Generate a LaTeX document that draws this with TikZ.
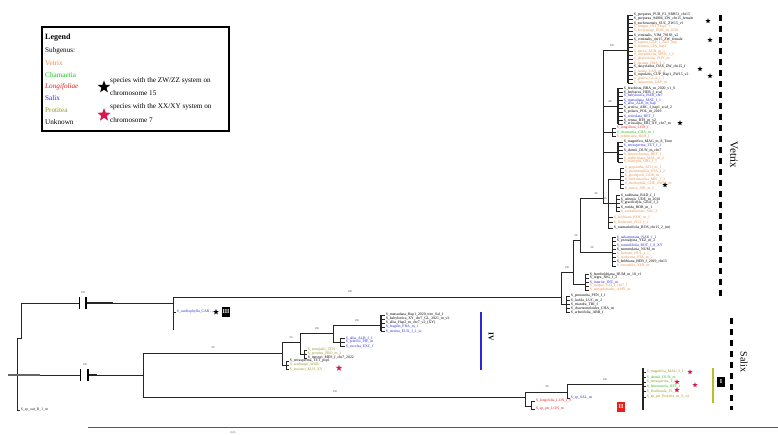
\documentclass[tikz,border=0pt]{standalone}
\usepackage{fontspec}
\setmainfont{Liberation Serif}
\usetikzlibrary{shapes.geometric}
\definecolor{vorg}{RGB}{232,140,70}
\definecolor{vgrn}{RGB}{30,190,30}
\definecolor{vred}{RGB}{235,30,30}
\definecolor{vblu}{RGB}{40,40,220}
\definecolor{volv}{RGB}{150,150,30}
\definecolor{vpnk}{RGB}{215,25,80}
\definecolor{vbar}{RGB}{185,190,40}
\tikzset{
  br/.style={line width=0.75pt, black!85},
  lab/.style={anchor=west, inner sep=0.4pt, font=\fontsize{3.8}{4}\selectfont},
  sv/.style={font=\fontsize{2.8}{3}\selectfont, inner sep=0pt, text=black!75},
  mstar/.style={star, star points=5, star point ratio=2.4, fill=black, inner sep=0pt, minimum size=5.5pt},
  pstar/.style={mstar, fill=vpnk},
  lg/.style={anchor=west, inner sep=0pt, font=\fontsize{7.2}{8}\selectfont},
  cbox/.style={fill=black, text=white, font=\bfseries\fontsize{6}{6}\selectfont, inner sep=0.8pt, minimum width=8pt, minimum height=10pt},
  dash3/.style={line width=3pt, dash pattern=on 6pt off 5pt}
}
\begin{document}
\begin{tikzpicture}[x=1pt,y=-1pt]
\useasboundingbox (0,0) rectangle (778,435);

% ---------- legend ----------
\draw[line width=1.5pt] (42,27) rectangle (229,131);
\node[anchor=west, inner sep=0pt, font=\bfseries\fontsize{8}{9}\selectfont] (lgt) at (45,38) {Legend};
\node[lg] (lg0) at (45,51) {Subgenus:};
\node[lg, text=vorg] (lg1) at (45,63) {Vetrix};
\node[lg, text=vgrn] (lg2) at (45,75) {Chamaetia};
\node[lg, text=vred, font=\itshape\fontsize{7.2}{8}\selectfont] (lg3) at (45,87) {Longifoliae};
\node[lg, text=vblu] (lg4) at (45,98) {Salix};
\node[lg, text=volv] (lg5) at (45,110) {Protitea};
\node[lg] (lg6) at (45,122) {Unknown};
\node[mstar, minimum size=13pt] (lgs1) at (104,87) {};
\node[lg] (lgt1) at (110,81) {species with the ZW/ZZ system on};
\node[lg] (lgt2) at (110,93) {chromosome 15};
\node[pstar, minimum size=14pt] (lgs2) at (104,115) {};
\node[lg] (lgt3) at (110,107) {species with the XX/XY system on};
\node[lg] (lgt4) at (110,120) {chromosome 7};

% ---------- root and outgroup branches ----------
\draw[br] (17,338) -- (17,410);
\draw[br] (17,338) -- (21,338) -- (21,303) -- (79,303);
\draw[br, line width=1.3pt] (86,303) -- (113,303);
\draw[br] (113,303) -- (173,303);
\draw[line width=1.8pt] (79.5,297) -- (79.5,309) (86,297) -- (86,309);
\draw[br, line width=1.2pt, black!60] (8,375) -- (40,375);
\draw[br] (40,375) -- (80,375);
\draw[br, line width=1.3pt] (88,375) -- (97,375);
\draw[br] (97,375) -- (143,375);
\draw[line width=1.8pt] (80.5,369) -- (80.5,381) (88,369) -- (88,381);
\draw[br] (17,410) -- (20,410) node[lab] (out1) {S\_sp\_out\_R\_1\_m};
\node[sv] (sv1) at (83,293) {100};
\node[sv] (sv2) at (85,365) {100};

% upper single leaf
\draw[br] (173,297) -- (173,330);
\draw[br] (173,312) -- (176,312) node[lab, text=vblu] (up1) {S\_cardiophylla\_CAR\,-\,-\,-};
\node[mstar, minimum size=6pt] (ups) at (216,312) {};
\node[cbox] (box3) at (226,312) {III};

% ---------- long branch to Vetrix ----------
\draw[br] (173,297) -- (561,297);
\node[sv] (sv3) at (350,292) {100};

% ---------- middle clade ----------
\draw[br] (143,353) -- (143,397);
\draw[br] (143,353) -- (282,353);
\node[sv] (sv4) at (213,348) {98};
\draw[br] (282,342) -- (282,365);
\draw[br] (282,342) -- (300,342);
\node[sv] (sv5) at (291,338) {90};
\draw[br] (300,333) -- (300,354);
\draw[br] (300,333) -- (333,333);
\node[sv] (sv6) at (317,329) {100};
\draw[br] (333,325) -- (333,342);
\draw[br] (333,325) -- (381,325);
\node[sv] (sv7) at (357,321) {100};
\draw[br, line width=1.1pt] (381,315) -- (381,331);
\foreach \y/\c/\t [count=\k] in {315/black/{S\_matsudana\_Hap1\_2020\_tree\_Sal\_f},319/black/{S\_babylonica\_XY\_chr7\_GL\_2021\_m\_v2},323/black/{S\_alba\_Hap2\_m\_chr7\_v2\_(XY)},327/vblu/{S\_fragilis\_FRA\_m\_1},331/vblu/{S\_euxina\_EUX\_f\_2\_sc}}
  {\draw[br] (381,\y) -- (385,\y) node[lab, text=\c] (m\k) {\t};}
\draw[br] (333,342) -- (340,342);
\draw[br] (340,338) -- (340,346);
\foreach \y/\c/\t [count=\k] in {338/vblu/{S\_alba\_ALB\_f\_1},342/vblu/{S\_pierotii\_PIE\_m},346/vblu/{S\_excelsa\_EXC\_f}}
  {\draw[br] (340,\y) -- (345,\y) node[lab, text=\c] (mb\k) {\t};}
\draw[br] (300,354) -- (304,354);
\draw[br] (304,350) -- (304,358);
\foreach \y/\c/\t [count=\k] in {350/volv/{S\_tenuijulis\_TEN},354/volv/{S\_protitea\_PRO\_m\_3},358/black/{S\_mesnyi\_MES\_f\_chr7\_2022}}
  {\draw[br] (304,\y) -- (307,\y) node[lab, text=\c] (mc\k) {\t};}
\draw[br] (282,365) -- (286,365);
\draw[br] (286,361) -- (286,369);
\foreach \y/\c/\t [count=\k] in {361/black/{S\_tetrasperma\_TET\_pop1},365/volv/{S\_warburgii\_WAR},369/volv/{S\_kusanoi\_KUS\_XY}}
  {\draw[br] (286,\y) -- (289,\y) node[lab, text=\c] (md\k) {\t};}
\node[pstar, minimum size=6.5pt] (mst) at (339,368) {};
\draw[vblu, line width=1.5pt] (481,312) -- (481,370);
\node[rotate=-90, font=\bfseries\fontsize{7.5}{8}\selectfont, inner sep=0pt] (lbl4) at (491,337) {IV};

% ---------- bottom clade ----------
\draw[br] (143,397) -- (525,397);
\node[sv] (sv8) at (335,392) {100};
\draw[br] (525,392) -- (525,406);
\draw[br] (525,392) -- (567,392);
\node[sv] (sv9) at (547,387) {98};
\draw[br] (567,384) -- (567,398);
\draw[br] (567,384) -- (643,384);
\node[sv] (sv10) at (605,380) {100};
\draw[br, line width=1.3pt] (643,368) -- (643,410);
\foreach \y/\c/\t [count=\k] in {372/volv/{S\_magnifica\_MAG\_f\_1},377/vgrn/{S\_dunnii\_DUN\_m},382/volv/{S\_tetrasperma\_T\_2},386/vgrn/{S\_heteromera\_HET\_f},391/volv/{S\_floribunda\_FL\_m},397/volv/{S\_sp\_ptr\_Protitea\_m\_\,S\_xx}}
  {\draw[br] (643,\y) -- (646,\y) node[lab, text=\c] (b\k) {\t};}
\node[pstar] (bs1) at (690,372) {};
\node[pstar] (bs2) at (677,382) {};
\node[pstar] (bs3) at (695,385) {};
\node[pstar] (bs4) at (677,390) {};
\draw[br] (567,398) -- (570,398) node[lab, text=vblu] (bb1) {S\_sp\_SAL\_m};
\draw[br] (525,406) -- (531,406);
\draw[br] (531,401) -- (531,409);
\draw[br] (531,401) -- (535,401) node[lab, text=vred] (bc1) {S\_longifolia\_LON\_f\_S};
\draw[br] (531,409) -- (535,409) node[lab, text=vred] (bc2) {S\_sp\_ptr\_LON\_m};
\node[cbox, fill=vred] (box2) at (621,407) {II};
\draw[vbar, line width=2.8pt] (713,368) -- (713,403);
\node[cbox] (box1) at (721,382) {I};
\draw[dash3] (731,318) -- (731,410);
\node[rotate=-90, font=\fontsize{10}{10}\selectfont, inner sep=0pt] (salix) at (744,362) {Salix};

% ---------- Vetrix clade ----------
\draw[dash3] (720,15) -- (720,300);
\node[rotate=-90, font=\fontsize{11}{11}\selectfont, inner sep=0pt] (vetrix) at (734,155) {Vetrix};

% backbone
\draw[br] (561,272) -- (561,304);
\draw[br] (561,272) -- (573,272);
\draw[br] (561,304) -- (566,304);
\draw[br] (566,296) -- (566,312);
\draw[br] (573,240) -- (573,284);
\draw[br] (573,240) -- (580,240);
\draw[br] (573,284) -- (585,284);
\draw[br] (585,274) -- (585,290);
\draw[br] (580,198) -- (580,252);
\draw[br] (580,198) -- (603,198);
\draw[br] (580,252) -- (612,252);
\draw[br] (612,237) -- (612,266);
\draw[br] (603,50) -- (603,203);
\draw[br] (603,50) -- (628,50);
\draw[br] (603,106) -- (618,106);
\draw[br] (603,132) -- (612,132);
\draw[br] (603,152) -- (618,152);
\draw[br] (603,203) -- (608,203);
\draw[br] (608,179) -- (608,228);
\draw[br] (608,179) -- (620,179);
\draw[br] (608,203) -- (616,203);
\draw[br] (620,168) -- (620,188);
\draw[br] (616,195) -- (616,211);
\draw[br, line width=1.3pt] (628,15) -- (628,83);
\draw[br, line width=1.1pt] (618,88) -- (618,124);
\draw[br] (612,128) -- (612,136);
\draw[br, line width=1.1pt] (618,142) -- (618,162);
\node[sv] (sv11) at (612,46) {100};
\node[sv] (sv12) at (596,194) {98};
\node[sv] (sv13) at (576,236) {98};
\node[sv] (sv14) at (592,248) {98};
\node[sv] (sv15) at (567,268) {100};
\node[sv] (sv16) at (610,102) {88};
\node[sv] (sv17) at (605,199) {96};

% group A
\foreach \y/\c/\t [count=\k] in {
 15/black/{S\_purpurea\_PUR\_F2\_SRR51\_chr15},
 19/black/{S\_purpurea\_94006\_ZW\_chr15\_female},
 23/black/{S\_suchowensis\_SUC\_ZW15\_v1},
 27/vorg/{S\_integra\_INT\_Hap1\_f},
 31/vorg/{S\_koriyanagi\_KOR\_m\_2020},
 35/black/{S\_viminalis\_VIM\_78183\_v2},
 39/black/{S\_viminalis\_chr15\_ZW\_female},
 43/vorg/{S\_caprea\_CAP\_f\_2021\_hap},
 47/vorg/{S\_cinerea\_CIN\_hap2},
 51/vorg/{S\_aurita\_AUR\_m\_1},
 55/vorg/{S\_myrsinifolia\_MYR\_f\_2},
 59/vorg/{S\_phylicifolia\_PHY\_m},
 63/vorg/{S\_hastata\_HAS\_f\_3},
 67/black/{S\_dasyclados\_DAS\_ZW\_chr15\_f},
 71/vorg/{S\_lanata\_LAN\_m\_2},
 75/black/{S\_cupularis\_CUP\_Hap1\_ZW15\_v2},
 79/vorg/{S\_glauca\_GLA\_f\_1},
 83/vorg/{S\_lapponum\_LAP\_m}}
  {\draw[br] (628,\y) -- (633,\y) node[lab, text=\c] (a\k) {\t};}
% group B
\foreach \y/\c/\t [count=\k] in {
 88/black/{S\_brachista\_BRA\_m\_2020\_v1\_S},
 92/black/{S\_herbacea\_HER\_f\_scaf},
 96/vblu/{S\_babylonica\_BAB\_chr7},
 100/vblu/{S\_matsudana\_MAT\_f\_1},
 104/vblu/{S\_alba\_ALB\_m\_hap},
 108/black/{S\_arctica\_ARC\_f\_hap1\_scaf\_2},
 112/black/{S\_polaris\_POL\_m\_2019},
 116/vblu/{S\_reticulata\_RET\_f},
 120/black/{S\_retusa\_RTS\_m\_v2},
 124/black/{S\_eriocarpa\_ERI\_XY\_chr7\_m}}
  {\draw[br] (618,\y) -- (623,\y) node[lab, text=\c] (bv\k) {\t};}
% group C
\foreach \y/\c/\t [count=\k] in {128/vred/{S\_longiflora\_LON\_f},132/vgrn/{S\_chamaetia\_CHA\_m\_1},136/vorg/{S\_rehderiana\_REH\_f}}
  {\draw[br] (612,\y) -- (616,\y) node[lab, text=\c] (cv\k) {\t};}
% group D
\foreach \y/\c/\t [count=\k] in {142/black/{S\_magnifica\_MAG\_m\_8\_Tonn},146/vblu/{S\_tetrasperma\_TET\_f\_1},150/black/{S\_dunnii\_DUN\_m\_chr7},154/vorg/{S\_heterochroma\_HET\_f},158/vorg/{S\_wallichiana\_WAL\_m\_2},162/vorg/{S\_oritrepha\_ORI\_f\_1}}
  {\draw[br] (618,\y) -- (623,\y) node[lab, text=\c] (dv\k) {\t};}
% group E1
\foreach \y/\c/\t [count=\k] in {168/vorg/{S\_atopantha\_ATO\_m\_1},172/vorg/{S\_psammophila\_PSA\_f\_2},176/vorg/{S\_gordejevii\_GOR\_m},180/vorg/{S\_microstachya\_MIC\_f\_3},184/vorg/{S\_cheilophila\_CHE\_ZW15\_m},188/vorg/{S\_sinica\_SIN\_m\_2}}
  {\draw[br] (620,\y) -- (624,\y) node[lab, text=\c] (ev\k) {\t};}
% group E2
\foreach \y/\c/\t [count=\k] in {195/black/{S\_raddeana\_RAD\_f\_1},199/black/{S\_udensis\_UDE\_m\_2018},203/black/{S\_gracilistyla\_GRA\_f\_2},207/black/{S\_rorida\_ROR\_m\_1},211/vorg/{S\_sachalinensis\_SAC\_f}}
  {\draw[br] (616,\y) -- (620,\y) node[lab, text=\c] (fv\k) {\t};}
% leaves of E
\foreach \y/\c/\t [count=\k] in {217/vorg/{S\_kochiana\_KOC\_m\_1},222/vorg/{S\_floderusii\_FLO\_f\_2},228/black/{S\_rosmarinifolia\_ROS\_chr15\_2\_(m)}}
  {\draw[br] (608,\y) -- (613,\y) node[lab, text=\c] (gv\k) {\t};}
% N4
\foreach \y/\c/\t [count=\k] in {237/vblu/{S\_nakamurana\_NAK\_f\_1},241/black/{S\_yezoalpina\_YEZ\_m\_2},245/vblu/{S\_rotundifolia\_ROT\_f\_8\_XY},249/black/{S\_nummularia\_NUM\_m},253/vorg/{S\_hultenii\_HUL\_f\_1},257/vorg/{S\_starkeana\_STA\_m\_2},261/black/{S\_bebbiana\_BEB\_f\_2019\_chr15},266/vorg/{S\_xerophila\_XER\_m}}
  {\draw[br] (612,\y) -- (616,\y) node[lab, text=\c] (hv\k) {\t};}
% C2
\foreach \y/\c/\t [count=\k] in {274/black/{S\_humboldtiana\_HUM\_m\_18\_v1},278/black/{S\_nigra\_NIG\_f\_2},282/vblu/{S\_interior\_INT\_m},286/vorg/{S\_exigua\_EXI\_f\_chr7\_1},290/vorg/{S\_amygdaloides\_AMY\_m}}
  {\draw[br] (585,\y) -- (589,\y) node[lab, text=\c] (iv\k) {\t};}
% C1
\foreach \y/\c/\t [count=\k] in {296/black/{S\_pentandra\_PEN\_f\_1},300/black/{S\_lucida\_LUC\_m\_2},304/black/{S\_triandra\_TRI\_f},308/black/{S\_chaenomeloides\_CHA\_m},312/black/{S\_arbutifolia\_ARB\_f}}
  {\draw[br] (566,\y) -- (570,\y) node[lab, text=\c] (jv\k) {\t};}
% stars in Vetrix
\node[mstar] (vs1) at (708,21) {};
\node[mstar] (vs2) at (710,40) {};
\node[mstar] (vs3) at (700,69) {};
\node[mstar] (vs4) at (710,76) {};
\node[mstar] (vs5) at (680,123) {};
\node[mstar] (vs6) at (665,185) {};

% ---------- scale line ----------
\draw[line width=0.9pt, black!65] (88,427) -- (778,427);
\node[sv] (scl) at (233,433) {0.05};
\end{tikzpicture}
\end{document}
